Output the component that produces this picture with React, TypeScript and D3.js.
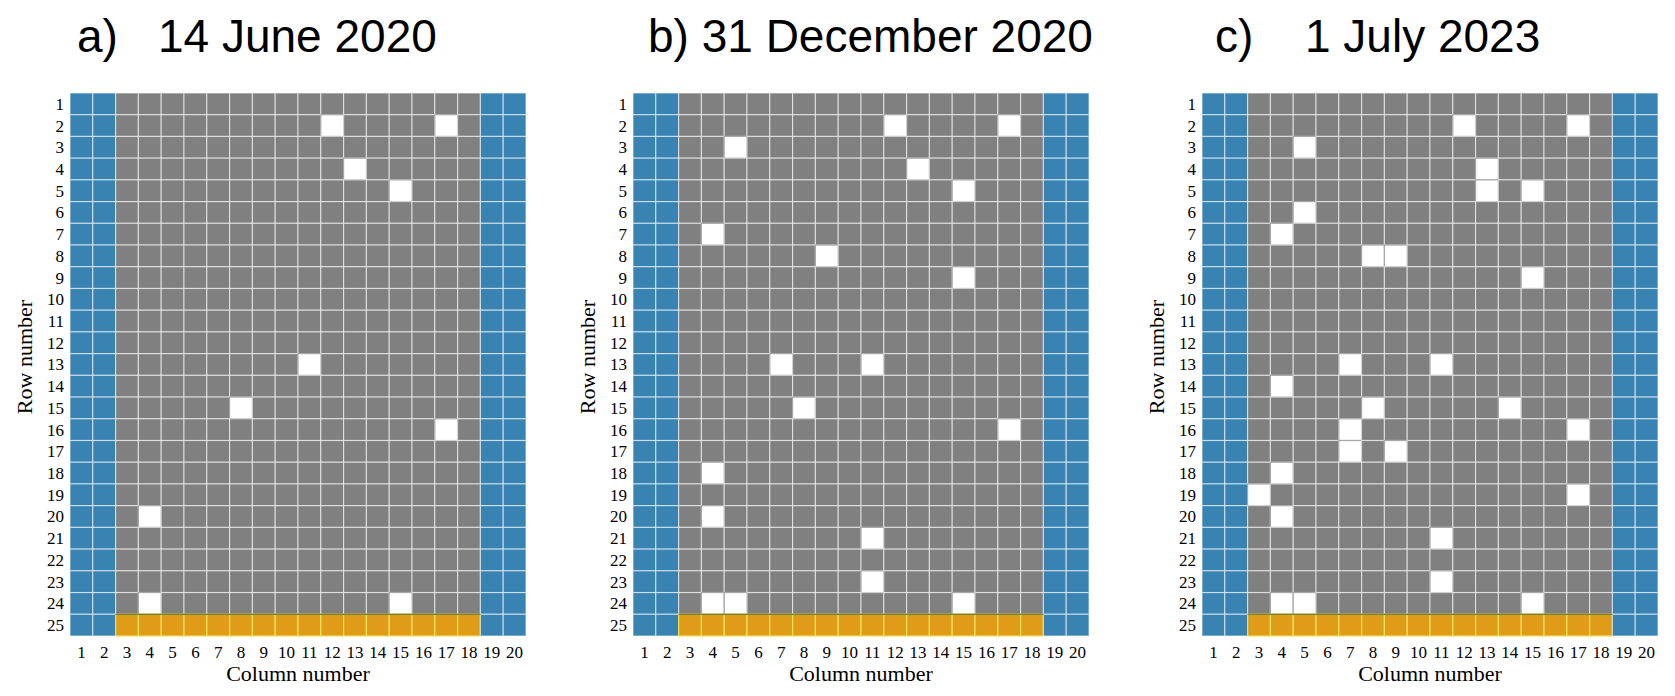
import React from "react";
import * as d3 from "d3";

// ---- data ----
const columns = d3.range(1, 21); // 1..20
const rows = d3.range(1, 26); // 1..25
const blueColumns = [1, 2, 19, 20];
const orangeRow = 25;

const panelLetters = ["a)", "b)", "c)"];
const panelDates = ["14 June 2020", "31 December 2020", "1 July 2023"];

// white (empty) cells as [column, row]
const emptyCellsA: [number, number][] = [
  [12, 2], [17, 2], [13, 4], [15, 5], [11, 13], [8, 15], [17, 16], [4, 20], [4, 24], [15, 24],
];
const emptyCellsB: [number, number][] = [
  [12, 2], [17, 2], [5, 3], [13, 4], [15, 5], [4, 7], [9, 8], [15, 9], [7, 13], [11, 13],
  [8, 15], [17, 16], [4, 18], [4, 20], [11, 21], [11, 23], [4, 24], [5, 24], [15, 24],
];
const emptyCellsC: [number, number][] = [
  [12, 2], [17, 2], [5, 3], [13, 4], [13, 5], [15, 5], [5, 6], [4, 7], [8, 8], [9, 8],
  [15, 9], [7, 13], [11, 13], [4, 14], [8, 15], [14, 15], [7, 16], [17, 16], [7, 17], [9, 17],
  [4, 18], [3, 19], [17, 19], [4, 20], [11, 21], [11, 23], [4, 24], [5, 24], [15, 24],
];
const panelCells = [emptyCellsA, emptyCellsB, emptyCellsC];

// ---- layout ----
const W = 1675;
const H = 696;
const gridTop = 93;
const gridBottom = 636;
const gridWidth = 456;
const panelLefts = [70, 633, 1202];
const titleLayout = [
  { letterX: 77, dateX: 158, together: false },
  { letterX: 648, dateX: 0, together: true },
  { letterX: 1215, dateX: 1305, together: false },
];

const BLUE = "#3883b2";
const GRAY = "#808080";
const ORANGE = "#e09c18";
const serif = "'Liberation Serif', 'Times New Roman', serif";
const sans = "'Liberation Sans', Arial, sans-serif";

function Panel({ idx }: { idx: number }) {
  const left = panelLefts[idx];
  const x = d3.scaleBand<number>().domain(columns).range([left, left + gridWidth]);
  const y = d3.scaleBand<number>().domain(rows).range([gridTop, gridBottom]);
  const empty = new Set(panelCells[idx].map(([c, r]) => `${c}-${r}`));
  const cells: JSX.Element[] = [];
  rows.forEach((r) => {
    columns.forEach((c) => {
      let fill = GRAY;
      let stroke = "rgba(255,255,255,0.55)";
      if (blueColumns.includes(c)) fill = BLUE;
      else if (r === orangeRow) {
        fill = ORANGE;
        stroke = "#efe35c";
      } else if (empty.has(`${c}-${r}`)) {
        fill = "#ffffff";
        stroke = "#a8a8a8";
      }
      cells.push(
        <rect
          key={`${c}-${r}`}
          x={x(c)}
          y={y(r)}
          width={x.bandwidth()}
          height={y.bandwidth()}
          fill={fill}
          stroke={stroke}
          strokeWidth={1.2}
        />
      );
    });
  });
  const orangeStart = x(3)!;
  const orangeEnd = x(18)! + x.bandwidth();
  const tl = titleLayout[idx];
  const cx = left + gridWidth / 2;
  return (
    <g>
      {tl.together ? (
        <text x={tl.letterX} y={52} fontFamily={sans} fontSize={46} fill="#000">
          {`${panelLetters[idx]} ${panelDates[idx]}`}
        </text>
      ) : (
        <g>
          <text x={tl.letterX} y={52} fontFamily={sans} fontSize={46} fill="#000">
            {panelLetters[idx]}
          </text>
          <text x={tl.dateX} y={52} fontFamily={sans} fontSize={46} fill="#000">
            {panelDates[idx]}
          </text>
        </g>
      )}
      {cells}
      <line
        x1={orangeStart}
        x2={orangeEnd}
        y1={y(orangeRow)}
        y2={y(orangeRow)}
        stroke="#4f6a1e"
        strokeWidth={1}
      />
      {rows.map((r) => (
        <text
          key={`rl${r}`}
          x={left - 6}
          y={y(r)! + y.bandwidth() / 2}
          dy="0.35em"
          textAnchor="end"
          fontFamily={serif}
          fontSize={17}
          fill="#000"
        >
          {r}
        </text>
      ))}
      {columns.map((c) => (
        <text
          key={`cl${c}`}
          x={x(c)! + x.bandwidth() / 2}
          y={658}
          textAnchor="middle"
          fontFamily={serif}
          fontSize={17}
          fill="#000"
        >
          {c}
        </text>
      ))}
      <text x={cx} y={681} textAnchor="middle" fontFamily={serif} fontSize={22} fill="#000">
        Column number
      </text>
      <text
        transform={`translate(${left - 38},357) rotate(-90)`}
        textAnchor="middle"
        fontFamily={serif}
        fontSize={22}
        fill="#000"
      >
        Row number
      </text>
    </g>
  );
}

export default function App() {
  return (
    <svg
      width={W}
      height={H}
      style={{ position: "absolute", left: 0, top: 0, background: "#fff" }}
    >
      <rect width={W} height={H} fill="#fff" />
      {[0, 1, 2].map((i) => (
        <Panel key={i} idx={i} />
      ))}
    </svg>
  );
}
